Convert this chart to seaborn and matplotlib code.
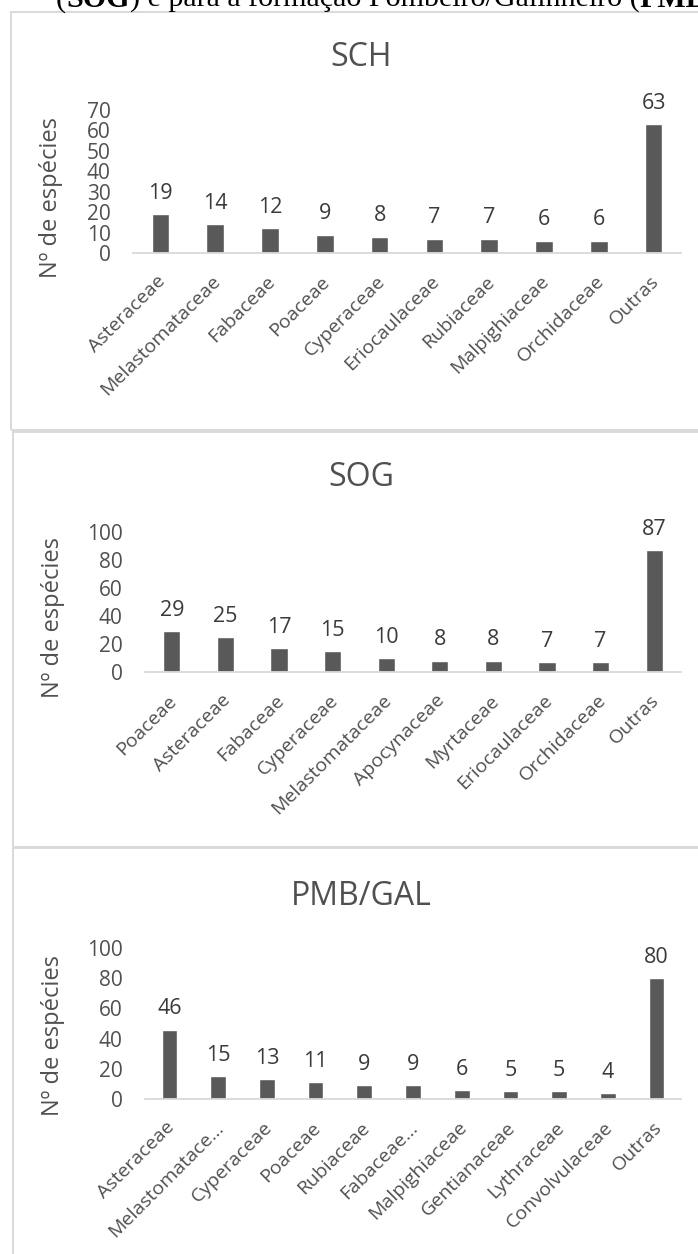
import matplotlib
matplotlib.use("Agg")
import matplotlib.pyplot as plt
import matplotlib.transforms as mtransforms
from matplotlib.patches import Rectangle
import seaborn as sns
import pandas as pd

# Families and species counts per vegetation formation
sch_families = ["Asteraceae", "Melastomataceae", "Fabaceae", "Poaceae", "Cyperaceae",
                "Eriocaulaceae", "Rubiaceae", "Malpighiaceae", "Orchidaceae", "Outras"]
sch_counts = [19, 14, 12, 9, 8, 7, 7, 6, 6, 63]

sog_families = ["Poaceae", "Asteraceae", "Fabaceae", "Cyperaceae", "Melastomataceae",
                "Apocynaceae", "Myrtaceae", "Eriocaulaceae", "Orchidaceae", "Outras"]
sog_counts = [29, 25, 17, 15, 10, 8, 8, 7, 7, 87]

pmb_families = ["Asteraceae", "Melastomatace...", "Cyperaceae", "Poaceae", "Rubiaceae",
                "Fabaceae...", "Malpighiaceae", "Gentianaceae", "Lythraceae",
                "Convolvulaceae", "Outras"]
pmb_counts = [46, 15, 13, 11, 9, 9, 6, 5, 5, 4, 80]

sch_ticks = [0, 10, 20, 30, 40, 50, 60, 70]
sog_ticks = [0, 20, 40, 60, 80, 100]
pmb_ticks = [0, 20, 40, 60, 80, 100]

titles = ["SCH", "SOG", "PMB/GAL"]
y_label = "Nº de espécies"
caption = [("(", "normal"), ("SOG", "bold"),
           (") e para a formação Pombeiro/Galinheiro (", "normal"),
           ("PMB/GAL", "bold"), (")", "normal")]

sns.set_theme(style="white")
plt.rcParams["font.family"] = ["Open Sans", "DejaVu Sans"]

W, H = 698, 1254
fig = plt.figure(figsize=(W / 100, H / 100), dpi=100)
fig.patch.set_facecolor("white")

BAR = "#595959"
TXT = "#505050"
LBL = "#3a3a3a"
RULE = "#d9d9d9"


def fx(px):
    return px / W


def fy(py):
    return 1 - py / H


# panel frames: (left, top, bottom) in pixels
frames = [(11, 12, 430), (12.5, 432, 847), (12.5, 848, 1262)]
for left, top, bottom in frames:
    fig.add_artist(Rectangle((fx(left), fy(bottom)), fx(W + 20 - left),
                             fy(top) - fy(bottom), transform=fig.transFigure,
                             facecolor="none", edgecolor=RULE, lw=1.4, zorder=0))

# axes boxes: left, right, zero line, top line (pixels), y max, data,
# title centre y, y-label centre x and y
boxes = [
    (133, 681, 253, 110, 70, sch_families, sch_counts, sch_ticks, 57, 63, 197),
    (145, 681, 672, 532, 100, sog_families, sog_counts, sog_ticks, 477, 65, 617),
    (145, 681, 1099, 948, 100, pmb_families, pmb_counts, pmb_ticks, 897, 65, 1035),
]

shift_left = mtransforms.ScaledTranslation(-4 / 100, 0, fig.dpi_scale_trans)

for (x0, x1, yz, yt, ymax, fams, cnts, ticks, ty, ylx, yly), title in zip(boxes, titles):
    ax = fig.add_axes([fx(x0), fy(yz), fx(x1 - x0), fy(yt) - fy(yz)])
    df = pd.DataFrame({"familia": fams, "especies": cnts})
    sns.barplot(data=df, x="familia", y="especies", color=BAR, saturation=1,
                width=0.32, ax=ax)
    ax.set_ylim(0, ymax)
    ax.set_yticks(ticks)
    ax.set_facecolor("none")
    for s in ["top", "right", "left"]:
        ax.spines[s].set_visible(False)
    ax.spines["bottom"].set_color(RULE)
    ax.spines["bottom"].set_linewidth(1.3)
    ax.tick_params(axis="y", length=0, pad=16, labelsize=15, labelcolor=TXT)
    ax.tick_params(axis="x", length=0, pad=14, labelsize=14, labelcolor=TXT)
    for lab in ax.get_xticklabels():
        lab.set_rotation(45)
        lab.set_ha("right")
        lab.set_va("top")
        lab.set_rotation_mode("anchor")
        lab.set_transform(lab.get_transform() + shift_left)
    ax.set_xlabel("")
    ax.set_ylabel(y_label, fontsize=17, color=TXT)
    ax.yaxis.set_label_coords((ylx - x0) / (x1 - x0), (yz - yly) / (yz - yt))
    ax.text((361 - x0) / (x1 - x0), (yz - ty) / (yz - yt), title,
            transform=ax.transAxes, ha="center", va="center", fontsize=23, color=TXT)
    for cont in ax.containers:
        ax.bar_label(cont, labels=[str(v) for v in cnts], padding=7.5,
                     fontsize=15.5, color=LBL)

# caption line running across the top edge
fig.canvas.draw()
rend = fig.canvas.get_renderer()
xpos = 56
for txt, wt in caption:
    t = fig.text(fx(xpos), fy(7), txt, fontweight=wt, fontsize=21.6,
                 family=["Liberation Serif", "DejaVu Serif"], va="baseline",
                 ha="left", color="black")
    xpos += t.get_window_extent(renderer=rend).width

fig.savefig("out.png", dpi=100, facecolor="white")
